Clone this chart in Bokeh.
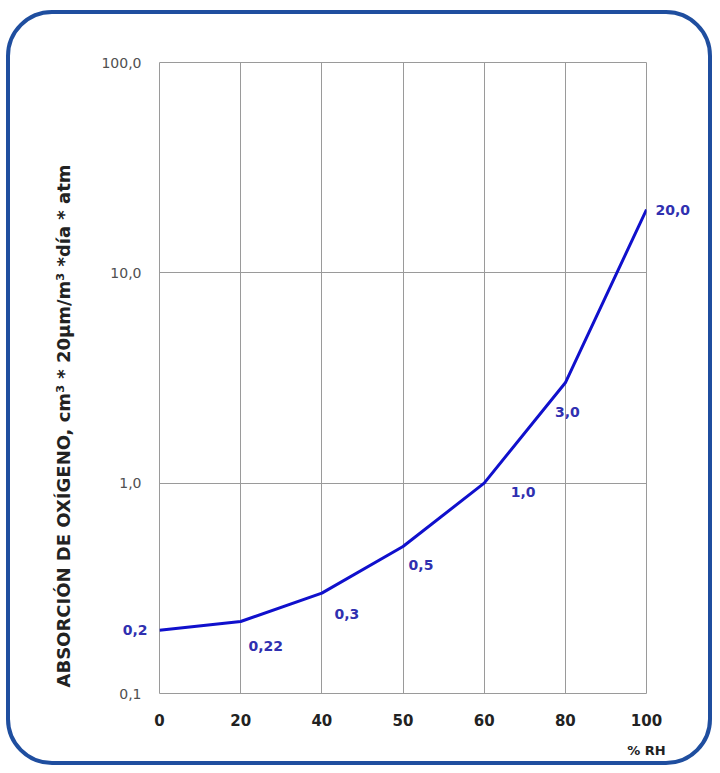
from bokeh.plotting import figure
from bokeh.models import (ColumnDataSource, FixedTicker, LabelSet, LogAxis,
                          LinearAxis, Title, CustomJSTickFormatter)
from bokeh.core.properties import value
from bokeh.embed import file_html
from bokeh.resources import INLINE

# ---- data ----
rh_labels = ["0", "20", "40", "50", "60", "80", "100"]
absorption = [0.2, 0.22, 0.3, 0.5, 1.0, 3.0, 20.0]
point_labels = ["0,2", "0,22", "0,3", "0,5", "1,0", "3,0", "20,0"]
y_ticks = [0.1, 1, 10, 100]
y_title = "ABSORCIÓN DE OXÍGENO, cm³ *  20µm/m³ *día * atm"
x_title = "% RH"

# ---- label placement (style, screen px; +y = up) ----
label_dx = [-26, 25, 25, 18, 39, 2, 28]
label_dy = [-20, -25, -21, -19, -9, -29, -3]

xs = list(range(len(rh_labels)))

FONT = "DejaVu Sans"
GRID = "#9a9a9a"
LINE = "#1010cc"
LBL = "#3030b0"

p = figure(width=706, height=755,
           x_range=(0, len(rh_labels) - 1), y_range=(0.1, 100),
           y_axis_type="log", output_backend="svg", toolbar_location=None,
           min_border_left=149, min_border_top=48,
           min_border_right=70, min_border_bottom=76)

p.styles = {"border": "4px solid #1f4e9f", "border-radius": "46px",
            "margin-left": "6px", "margin-top": "10px"}
p.background_fill_color = "white"
p.border_fill_color = None
p.outline_line_color = GRID
p.outline_line_width = 1


def plain(ax):
    ax.axis_line_color = None
    ax.major_tick_line_color = None
    ax.minor_tick_line_color = None
    ax.major_tick_out = 0
    ax.major_tick_in = 0
    ax.minor_tick_out = 0
    ax.minor_tick_in = 0


# x axis
xt = FixedTicker(ticks=xs)
p.xaxis.ticker = xt
p.xaxis.formatter = CustomJSTickFormatter(args=dict(labels=rh_labels),
                                          code="return labels[Math.round(tick)];")
plain(p.xaxis[0])
p.xaxis.major_label_standoff = 20
p.xaxis.major_label_text_font = FONT
p.xaxis.major_label_text_font_style = "bold"
p.xaxis.major_label_text_font_size = "15px"
p.xaxis.major_label_text_color = "#222222"

# "% RH" under the last x tick, as the label of an outer below axis
rh_fmt = CustomJSTickFormatter(args=dict(t=x_title), code="return t;")
ax_rh = LinearAxis(ticker=FixedTicker(ticks=[xs[-1]], minor_ticks=[]),
                   formatter=rh_fmt)
plain(ax_rh)
ax_rh.major_label_standoff = 14
ax_rh.major_label_text_font = FONT
ax_rh.major_label_text_font_style = "bold"
ax_rh.major_label_text_font_size = "13px"
ax_rh.major_label_text_color = "#222222"
p.add_layout(ax_rh, "below")

# first value label: left of the frame, as a tick label of an inner left axis
first_fmt = CustomJSTickFormatter(args=dict(t=point_labels[0]), code="return t;")
ax_first = LogAxis(ticker=FixedTicker(ticks=[absorption[0]], minor_ticks=[]),
                   formatter=first_fmt)
plain(ax_first)
ax_first.major_label_standoff = 12
ax_first.major_label_text_font = FONT
ax_first.major_label_text_font_style = "bold"
ax_first.major_label_text_font_size = "14px"
ax_first.major_label_text_color = LBL
p.left = [ax_first] + list(p.left)

# y axis (outer, pulled back to sit 16px from the frame)
yt = FixedTicker(ticks=y_ticks, minor_ticks=[])
p.yaxis[1].ticker = yt
p.yaxis[1].formatter = CustomJSTickFormatter(code="return tick.toFixed(1).replace('.', ',');")
plain(p.yaxis[1])
p.yaxis[1].major_label_standoff = -22
p.yaxis[1].major_label_text_font = FONT
p.yaxis[1].major_label_text_font_size = "14px"
p.yaxis[1].major_label_text_color = "#505050"

# y title as a side title (starting near the bottom like the reference)
yt_title = Title(text=y_title, align="left", offset=6,
                 text_font=FONT, text_font_style="bold",
                 text_font_size="18px", text_color="#222222")
if "standoff" in Title.properties():
    yt_title.standoff = 49
p.add_layout(yt_title, "left")

# grids
p.xgrid.ticker = xt
p.ygrid.ticker = yt
p.xgrid.grid_line_color = GRID
p.ygrid.grid_line_color = GRID
p.xgrid.grid_line_alpha = 1
p.ygrid.grid_line_alpha = 1

# line
src = ColumnDataSource(dict(x=xs, y=absorption))
p.line("x", "y", source=src, line_color=LINE, line_width=3)

# inner value labels (those inside the frame)
inner = list(range(1, len(xs) - 1))
src_in = ColumnDataSource(dict(x=[xs[i] for i in inner],
                               y=[absorption[i] for i in inner],
                               label=[point_labels[i] for i in inner],
                               dx=[label_dx[i] for i in inner],
                               dy=[label_dy[i] for i in inner]))
labels = LabelSet(x="x", y="y", text="label", x_offset="dx", y_offset="dy",
                  source=src_in, text_font=value(FONT), text_font_style="bold",
                  text_font_size="14px", text_color=LBL,
                  text_align="center", text_baseline="middle")
p.add_layout(labels)

# last value label: right of the frame
last_fmt = CustomJSTickFormatter(args=dict(t=point_labels[-1]), code="return t;")
ax_last = LogAxis(ticker=FixedTicker(ticks=[absorption[-1]], minor_ticks=[]),
                  formatter=last_fmt)
plain(ax_last)
ax_last.major_label_standoff = 9
ax_last.major_label_text_font = FONT
ax_last.major_label_text_font_style = "bold"
ax_last.major_label_text_font_size = "14px"
ax_last.major_label_text_color = LBL
p.add_layout(ax_last, "right")

open("out.html", "w").write(file_html(p, INLINE))
